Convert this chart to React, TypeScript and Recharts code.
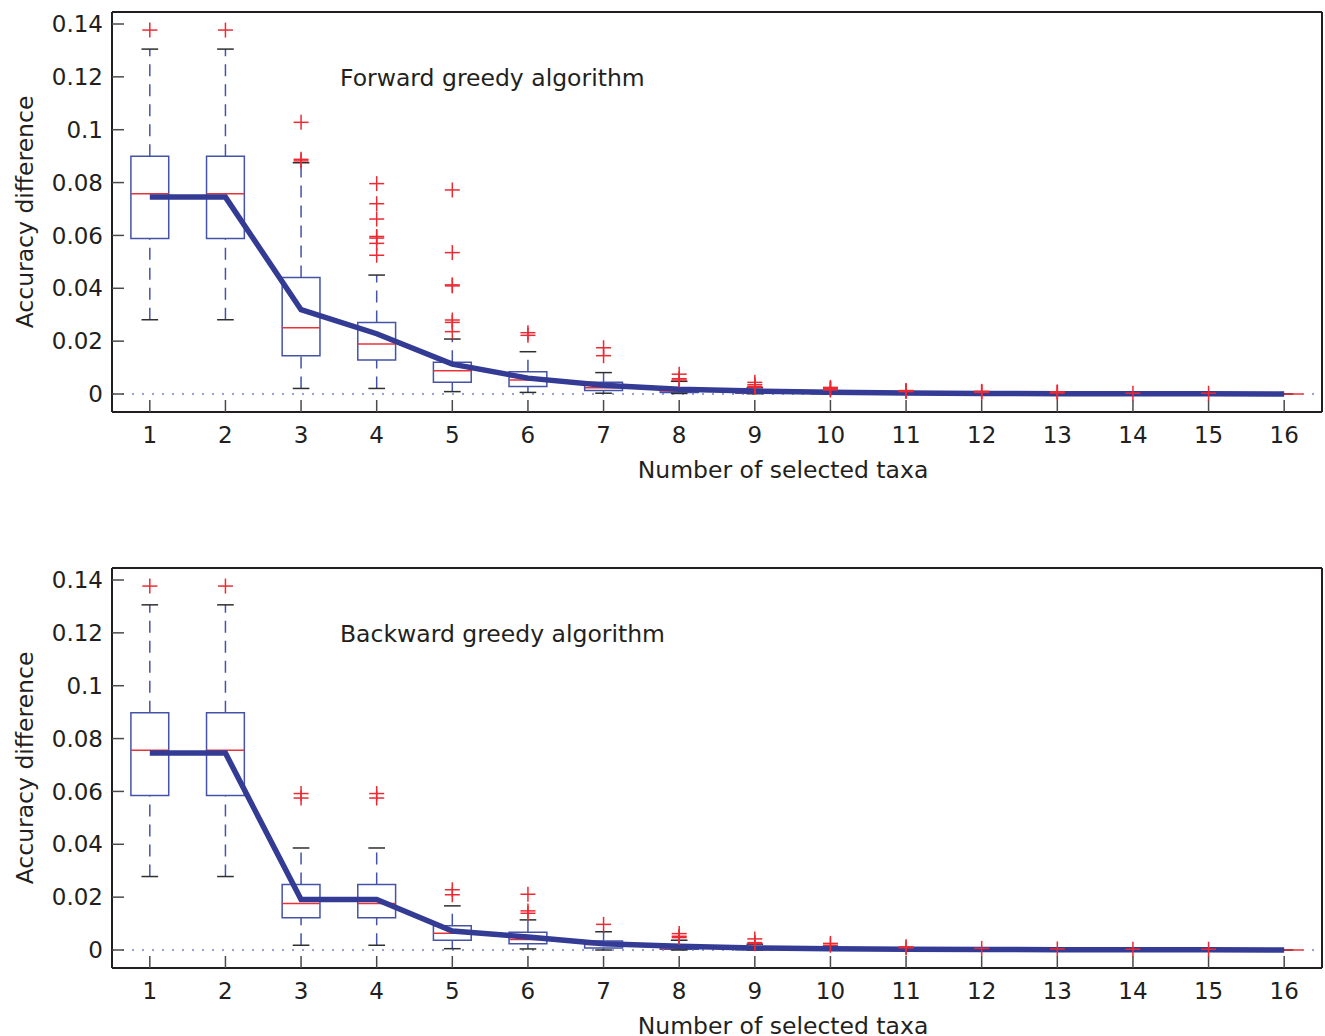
import React from 'react'
import {
  ComposedChart,
  XAxis,
  YAxis,
  Line,
  Scatter,
  ReferenceArea,
  ReferenceLine,
  Label,
} from 'recharts'

const positions = [1, 2, 3, 4, 5, 6, 7, 8, 9, 10, 11, 12, 13, 14, 15, 16]
const yTicks = [0, 0.02, 0.04, 0.06, 0.08, 0.1, 0.12, 0.14]
const yTickLabels = ['0', '0.02', '0.04', '0.06', '0.08', '0.1', '0.12', '0.14']

// forward greedy
const fwdLow = [0.0281, 0.0281, 0.0021, 0.0021, 0.0009, 0.0006, 0.0003, 0.0002, 0.0001, 0, 0, 0, 0, 0, 0, 0]
const fwdQ1 = [0.0588, 0.0588, 0.0145, 0.0129, 0.0044, 0.0028, 0.0013, 0.0006, 0.0003, 0.0001, 0, 0, 0, 0, 0, 0]
const fwdMed = [0.0758, 0.0758, 0.0251, 0.0189, 0.0088, 0.0053, 0.0024, 0.0011, 0.0006, 0.0003, 0.0001, 0, 0, 0, 0, 0]
const fwdQ3 = [0.09, 0.09, 0.0441, 0.0271, 0.012, 0.0084, 0.0044, 0.0022, 0.0012, 0.0006, 0.0003, 0.0001, 0.0001, 0, 0, 0]
const fwdHigh = [0.1305, 0.1305, 0.0875, 0.045, 0.0208, 0.016, 0.0081, 0.0048, 0.0024, 0.0012, 0.0006, 0.0003, 0.0002, 0.0001, 0.0001, 0]
const fwdMean = [0.0745, 0.0745, 0.0319, 0.0228, 0.0113, 0.006, 0.0033, 0.0018, 0.0011, 0.0007, 0.0004, 0.0002, 0.0001, 0.0001, 0.0001, 0]
const fwdOutliers = [
  [0.1377],
  [0.1377],
  [0.1028, 0.0888, 0.0882],
  [0.0796, 0.072, 0.0662, 0.0596, 0.059, 0.057, 0.0525],
  [0.0772, 0.0535, 0.0413, 0.0409, 0.028, 0.0271, 0.0236],
  [0.0232, 0.0222],
  [0.0175, 0.0145],
  [0.0075, 0.0058, 0.0053],
  [0.0044, 0.0035, 0.0028, 0.0026],
  [0.0025, 0.0021, 0.0018, 0.0015],
  [0.0013, 0.0011, 0.0009],
  [0.001, 0.0008, 0.0006],
  [0.0008, 0.0006, 0.0004],
  [0.0003],
  [0.0003],
  [],
]

// backward greedy
const bwdLow = [0.0278, 0.0278, 0.0018, 0.0018, 0.0005, 0.0004, 0, 0, 0, 0, 0, 0, 0, 0, 0, 0]
const bwdQ1 = [0.0585, 0.0585, 0.0122, 0.0122, 0.0037, 0.0024, 0.0008, 0.0003, 0.0001, 0, 0, 0, 0, 0, 0, 0]
const bwdMed = [0.0756, 0.0756, 0.0176, 0.0176, 0.0063, 0.004, 0.0021, 0.0007, 0.0004, 0.0002, 0.0001, 0, 0, 0, 0, 0]
const bwdQ3 = [0.0898, 0.0898, 0.0248, 0.0248, 0.0092, 0.0067, 0.0034, 0.0015, 0.0009, 0.0005, 0.0002, 0.0001, 0, 0, 0, 0]
const bwdHigh = [0.1306, 0.1306, 0.0386, 0.0386, 0.0167, 0.0114, 0.0069, 0.0037, 0.0022, 0.0012, 0.0006, 0.0003, 0.0002, 0.0001, 0.0001, 0]
const bwdMean = [0.0745, 0.0745, 0.0191, 0.0191, 0.0072, 0.0049, 0.0024, 0.0014, 0.0008, 0.0005, 0.0003, 0.0002, 0.0001, 0.0001, 0.0001, 0]
const bwdOutliers = [
  [0.1377],
  [0.1377],
  [0.0592, 0.0575],
  [0.0592, 0.0575],
  [0.0228, 0.0209],
  [0.0211, 0.0148, 0.0139],
  [0.0097],
  [0.0062, 0.0052, 0.0047],
  [0.0042, 0.0028, 0.0024],
  [0.0025, 0.0018],
  [0.0012, 0.0008],
  [0.0006],
  [0.0004],
  [0.0003],
  [0.0003],
  [],
]

const FONT = 'DejaVu Sans'
const TEXT = '#231f20'
const BOX = '#4453a8'
const MEDIAN = '#e8323a'
const CAP = '#2f2f2f'
const MEAN = '#333b95'
const OUT = '#ec2a33'

const yDomain = [-0.00681, 0.14454]
const xDomain = [0.5, 16.5]
const frame = { stroke: TEXT, strokeWidth: 2 }
const tickLine = { stroke: '#4a4a4a', strokeWidth: 1.5 }
const tickFont = { fontSize: 23, fill: TEXT, fontFamily: FONT }

const fmtY = (v: number) => {
  const i = yTicks.findIndex((t) => Math.abs(t - v) < 1e-9)
  return i >= 0 ? yTickLabels[i] : String(v)
}

const Plus = (props: any) => {
  const { cx, cy } = props
  if (cx == null || cy == null) return <g />
  return (
    <g stroke={OUT} strokeWidth={1.5}>
      <line x1={cx - 7.5} x2={cx + 7.5} y1={cy} y2={cy} />
      <line x1={cx} x2={cx} y1={cy - 7.5} y2={cy + 7.5} />
    </g>
  )
}

const XLabel = (props: any) => {
  const vb = props.viewBox || {}
  return (
    <text x={vb.x + vb.width / 2 + 66} y={vb.y + 66} textAnchor="middle" fontSize={23.5} fontFamily={FONT} fill={TEXT}>
      Number of selected taxa
    </text>
  )
}

const YLabel = (props: any) => {
  const vb = props.viewBox || {}
  const x = vb.x + 21
  const y = vb.y + vb.height / 2
  return (
    <text x={x} y={y} transform={`rotate(-90, ${x}, ${y})`} textAnchor="middle" fontSize={23.5} fontFamily={FONT} fill={TEXT}>
      Accuracy difference
    </text>
  )
}

type PanelProps = {
  low: number[]
  q1: number[]
  med: number[]
  q3: number[]
  high: number[]
  mean: number[]
  outliers: number[][]
}

function Panel({ low, q1, med, q3, high, mean, outliers }: PanelProps) {
  const meanData = positions.map((x, i) => ({ x, y: mean[i] }))
  const outlierData = positions.flatMap((x, i) => outliers[i].map((y) => ({ x, y })))
  const hw = 0.25
  const cap = 0.11

  return (
    <ComposedChart width={1325} height={518} margin={{ top: 11, right: 2, left: 12, bottom: 0 }}>
      <XAxis
        xAxisId={0}
        dataKey="x"
        type="number"
        domain={xDomain}
        ticks={positions}
        interval={0}
        allowDataOverflow
        height={106}
        tickSize={-12}
        tickMargin={27}
        axisLine={frame}
        tickLine={tickLine}
        tick={tickFont}
      >
        <Label content={XLabel} />
      </XAxis>
      <XAxis
        xAxisId="top"
        orientation="top"
        dataKey="x"
        type="number"
        domain={xDomain}
        ticks={positions}
        interval={0}
        allowDataOverflow
        height={1}
        tickSize={-12}
        axisLine={frame}
        tickLine={tickLine}
        tick={false}
      />
      <YAxis
        yAxisId={0}
        dataKey="y"
        type="number"
        domain={yDomain}
        ticks={yTicks}
        interval={0}
        allowDataOverflow
        width={100}
        tickSize={-12}
        tickMargin={21}
        axisLine={frame}
        tickLine={tickLine}
        tick={tickFont}
        tickFormatter={fmtY}
      >
        <Label content={YLabel} />
      </YAxis>
      <YAxis
        yAxisId="right"
        orientation="right"
        dataKey="y"
        type="number"
        domain={yDomain}
        ticks={yTicks}
        interval={0}
        allowDataOverflow
        width={1}
        tickSize={-12}
        axisLine={frame}
        tickLine={tickLine}
        tick={false}
      />

      <ReferenceLine y={0} stroke="#7582c6" strokeWidth={1.5} strokeDasharray="2 8" />

      {positions.map((p, i) => (
        <ReferenceLine
          key={`wu${p}`}
          segment={[{ x: p, y: q3[i] }, { x: p, y: high[i] }]}
          stroke={BOX}
          strokeWidth={1.5}
          strokeDasharray="12 8"
        />
      ))}
      {positions.map((p, i) => (
        <ReferenceLine
          key={`wl${p}`}
          segment={[{ x: p, y: low[i] }, { x: p, y: q1[i] }]}
          stroke={BOX}
          strokeWidth={1.5}
          strokeDasharray="12 8"
        />
      ))}
      {positions.map((p, i) => (
        <ReferenceLine
          key={`cu${p}`}
          segment={[{ x: p - cap, y: high[i] }, { x: p + cap, y: high[i] }]}
          stroke={CAP}
          strokeWidth={1.5}
        />
      ))}
      {positions.map((p, i) => (
        <ReferenceLine
          key={`cl${p}`}
          segment={[{ x: p - cap, y: low[i] }, { x: p + cap, y: low[i] }]}
          stroke={CAP}
          strokeWidth={1.5}
        />
      ))}
      {positions.map((p, i) => (
        <ReferenceArea
          key={`b${p}`}
          x1={p - hw}
          x2={p + hw}
          y1={q1[i]}
          y2={q3[i]}
          fill="#ffffff"
          fillOpacity={0}
          stroke={BOX}
          strokeWidth={1.5}
        />
      ))}
      {positions.map((p, i) => (
        <ReferenceLine
          key={`m${p}`}
          segment={[{ x: p - hw, y: med[i] }, { x: p + hw, y: med[i] }]}
          stroke={MEDIAN}
          strokeWidth={1.5}
        />
      ))}

      <Scatter data={outlierData} dataKey="y" shape={Plus} isAnimationActive={false} />
      <Line
        data={meanData}
        dataKey="y"
        type="linear"
        stroke={MEAN}
        strokeWidth={5.5}
        dot={false}
        activeDot={false}
        isAnimationActive={false}
      />
    </ComposedChart>
  )
}

export default function App() {
  return (
    <div
      style={{
        position: 'absolute',
        left: 0,
        top: 0,
        width: 1325,
        height: 1036,
        overflow: 'hidden',
        background: '#fff',
        fontFamily: FONT,
      }}
    >
      <div style={{ position: 'absolute', left: 0, top: 0 }}>
        <Panel low={fwdLow} q1={fwdQ1} med={fwdMed} q3={fwdQ3} high={fwdHigh} mean={fwdMean} outliers={fwdOutliers} />
      </div>
      <div style={{ position: 'absolute', left: 0, top: 556 }}>
        <Panel low={bwdLow} q1={bwdQ1} med={bwdMed} q3={bwdQ3} high={bwdHigh} mean={bwdMean} outliers={bwdOutliers} />
      </div>
      <svg
        width={1325}
        height={1036}
        style={{ position: 'absolute', left: 0, top: 0, pointerEvents: 'none' }}
      >
        <text x={340} y={86} fontSize={23.5} fontFamily={FONT} fill={TEXT}>
          Forward greedy algorithm
        </text>
        <text x={340} y={642} fontSize={23.5} fontFamily={FONT} fill={TEXT}>
          Backward greedy algorithm
        </text>
      </svg>
    </div>
  )
}
